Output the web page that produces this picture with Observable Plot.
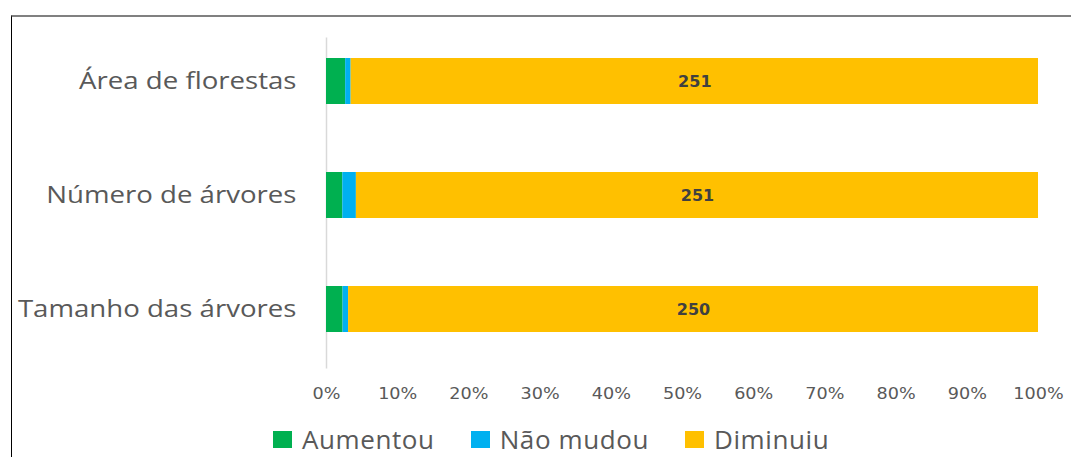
<!DOCTYPE html>
<html>
<head>
<meta charset="utf-8">
<script src="https://cdn.jsdelivr.net/npm/d3@7"></script>
<script src="https://cdn.jsdelivr.net/npm/@observablehq/plot@0.6"></script>
<style>
  html, body { margin: 0; padding: 0; background: #fff; }
  #wrap { position: relative; width: 1071px; height: 457px; overflow: hidden; }
  #frame { position: absolute; left: 11px; top: 15px; right: 0; bottom: 0;
           border-top: 2px solid #808080; border-left: 1px solid #000; }
  #chart { position: absolute; left: 0; top: 0; }
  #legend { position: absolute; left: 273px; top: 423px; height: 32px;
            display: flex; align-items: center; gap: 36px;
            font-family: "Open Sans", sans-serif; font-size: 26px; letter-spacing: 0.6px;
            color: #595959; white-space: nowrap; }
  .item { display: flex; align-items: center; gap: 10px; }
  .sw { width: 19px; height: 17px; display: inline-block; }
</style>
</head>
<body>
<div id="wrap">
  <div id="frame"></div>
  <div id="chart"></div>
  <div id="legend"></div>
</div>
<script>
const categories = ["Área de florestas", "Número de árvores", "Tamanho das árvores"];
const statuses = ["Aumentou", "Não mudou", "Diminuiu"];
const colors = ["#00B050", "#00B0F0", "#FFC000"];
const aumentou = [7, 6, 6];
const naoMudou = [2, 5, 2];
const diminuiu = [251, 251, 250];
const xTicks = [0, 0.1, 0.2, 0.3, 0.4, 0.5, 0.6, 0.7, 0.8, 0.9, 1];
const xTickLabels = ["0%", "10%", "20%", "30%", "40%", "50%", "60%", "70%", "80%", "90%", "100%"];

const seriesValues = [aumentou, naoMudou, diminuiu];
const data = [];
categories.forEach((c, i) => {
  statuses.forEach((s, j) => {
    data.push({cat: c, status: s, value: seriesValues[j][i]});
  });
});

const chart = Plot.plot({
  width: 1071,
  height: 412,
  marginLeft: 326,
  marginRight: 33,
  marginTop: 22.6,
  marginBottom: 45.6,
  style: {background: "transparent", overflow: "visible"},
  x: {domain: [0, 1], ticks: xTicks, tickFormat: (d, i) => xTickLabels[i], label: null},
  y: {domain: categories, paddingInner: 0.6, paddingOuter: 0.3, label: null},
  color: {domain: statuses, range: colors},
  marks: [
    Plot.ruleX([0], {stroke: "#d9d9d9", strokeWidth: 1.5, insetTop: 15, insetBottom: -2}),
    Plot.barX(data, Plot.stackX({
      x: "value", y: "cat", fill: "status", order: statuses, offset: "normalize"
    })),
    Plot.text(data, Plot.stackX({
      x: "value", y: "cat", z: "status", order: statuses, offset: "normalize",
      text: d => d.status === "Diminuiu" ? String(d.value) : "",
      fill: "#404040", fontSize: 16, fontWeight: 600,
      fontFamily: "DejaVu Sans"
    })),
    Plot.axisY({tickSize: 0, tickPadding: 30, fontSize: 23, fontFamily: "Open Sans",
      color: "#595959", label: null}),
    Plot.axisX({ticks: xTicks, tickFormat: (d, i) => xTickLabels[i], tickSize: 0,
      tickPadding: 21, fontSize: 16, fontFamily: "DejaVu Sans", color: "#595959", label: null})
  ]
});
document.getElementById("chart").appendChild(chart);

// The reference text is horizontally stretched; widen the tick labels with textLength.
function stretch(selector, s) {
  chart.querySelectorAll(selector).forEach(t => {
    try {
      const w = t.getComputedTextLength();
      if (w > 0) {
        t.setAttribute("lengthAdjust", "spacingAndGlyphs");
        t.setAttribute("textLength", (w * s).toFixed(1));
      }
    } catch (e) {}
  });
}
stretch('g[aria-label="y-axis tick label"] text', 1.2);
stretch('g[aria-label="x-axis tick label"] text', 1.1);

const legend = document.getElementById("legend");
statuses.forEach((s, j) => {
  const item = document.createElement("span");
  item.className = "item";
  const sw = document.createElement("span");
  sw.className = "sw";
  sw.style.background = colors[j];
  const t = document.createElement("span");
  t.textContent = s;
  item.appendChild(sw);
  item.appendChild(t);
  legend.appendChild(item);
});
</script>
</body>
</html>
